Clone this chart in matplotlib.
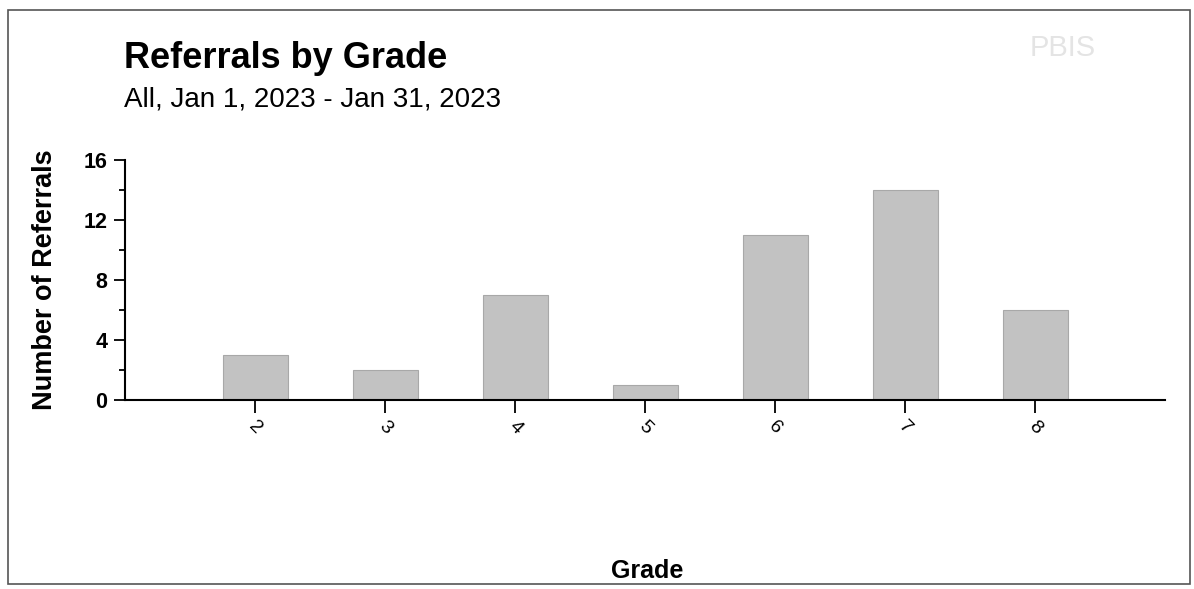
import matplotlib.pyplot as plt
from matplotlib.patches import Rectangle

plt.rcParams['font.family'] = ['Liberation Sans', 'DejaVu Sans']

# datos
grades = ["2", "3", "4", "5", "6", "7", "8"]
referrals = [3, 2, 7, 1, 11, 14, 6]
yticks = [0, 4, 8, 12, 16]

fig = plt.figure(figsize=(11.94, 5.89), dpi=100)
ax = fig.add_axes([0.105, 0.321, 0.871, 0.407])

pos = list(range(2, 2 + len(grades)))
ax.bar(pos, referrals, width=0.5, color="#c2c2c2", edgecolor="#a8a8a8", linewidth=0.8)

ax.set_xlim(1, 9)
ax.set_ylim(0, 16)
ax.set_yticks(yticks)
ax.set_yticks([2, 6, 10, 14], minor=True)
ax.set_xticks(pos)
ax.set_xticklabels(grades, rotation=-45, fontsize=14, ha="center")
for s in ["top", "right"]:
    ax.spines[s].set_visible(False)
ax.spines["left"].set_linewidth(1.5)
ax.spines["bottom"].set_linewidth(1.5)
ax.tick_params(axis="y", direction="out", length=8, labelsize=15.5, width=1.3, pad=5)
ax.tick_params(axis="y", which="minor", length=4, width=1.3)
ax.tick_params(axis="x", direction="out", length=9, width=1.3, pad=4)
for t in ax.get_yticklabels():
    t.set_fontweight("bold")

ax.set_ylabel("Number of Referrals", fontsize=19.5, fontweight="bold", labelpad=18)
fig.text(0.542, 0.019, "Grade", fontsize=18, fontweight="bold", ha="center", va="baseline")

# titulos
fig.text(0.104, 0.884, "Referrals by Grade", fontsize=26, fontweight="bold", ha="left", va="baseline")
fig.text(0.104, 0.82, "All, Jan 1, 2023 - Jan 31, 2023", fontsize=20, ha="left", va="baseline")
fig.text(0.862, 0.918, "PBIS", fontsize=21, color="#e4e4e4", ha="left", va="center")

# marco
fig.patches.append(Rectangle((0.007, 0.008), 0.99, 0.975, transform=fig.transFigure,
                             fill=False, edgecolor="#555555", linewidth=1.2))

fig.savefig("out.png", dpi=100)
